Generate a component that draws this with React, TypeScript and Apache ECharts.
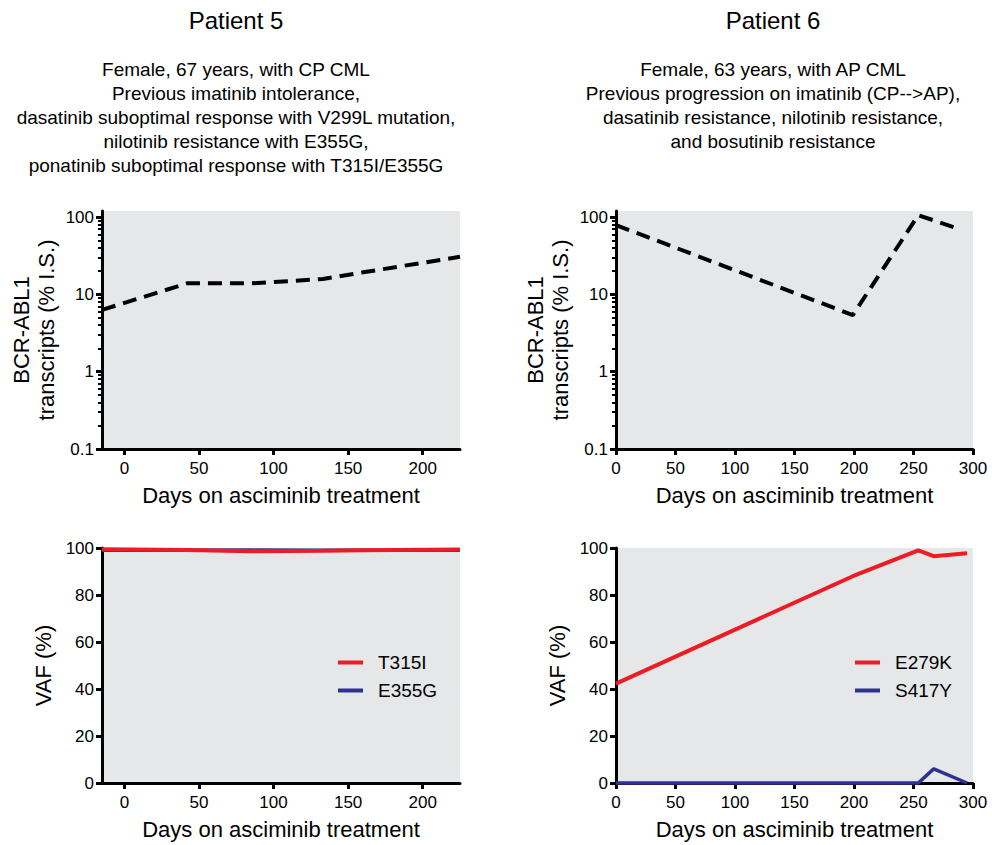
import React, { useEffect, useRef } from 'react';
import * as echarts from 'echarts';

const FONT = '"Liberation Sans", Arial, Helvetica, sans-serif';
const RED = '#ed1c24';
const BLUE = '#2e3192';
const GRAY = '#e6e7e8';

// Patient 5
const p5Days = [-15, 42, 85, 133, 160, 225];
const p5BcrAbl = [6.3, 13.9, 13.9, 15.8, 19.3, 30.7];
const p5T315I = [99.5, 99.2, 98.6, 98.8, 99.0, 99.4];
const p5E355G = [99.0, 99.0, 99.1, 99.0, 99.0, 99.0];

// Patient 6
const p6BcrDays = [0, 199, 254, 287];
const p6BcrAbl = [79, 5.4, 106, 71.5];
const p6VafDays = [0, 199, 254, 267, 295];
const p6E279K = [42.3, 88, 99, 96.5, 97.8];
const p6S417Y = [0, 0, 0, 6, 0];

// Tick values
const logMajorTicks = [0.1, 1, 10, 100];
const logMinorTicks = [0.2, 0.3, 0.4, 0.5, 0.6, 0.7, 0.8, 0.9, 2, 3, 4, 5, 6, 7, 8, 9, 20, 30, 40, 50, 60, 70, 80, 90];
const p5DayTicks = [0, 50, 100, 150, 200];
const p6DayTicks = [0, 50, 100, 150, 200, 250, 300];

const titles = ['Patient 5', 'Patient 6'];
const subtitles = [
  'Female, 67 years, with CP CML\nPrevious imatinib intolerance,\ndasatinib suboptimal response with V299L mutation,\nnilotinib resistance with E355G,\nponatinib suboptimal response with T315I/E355G',
  'Female, 63 years, with AP CML\nPrevious progression on imatinib (CP-->AP),\ndasatinib resistance, nilotinib resistance,\nand bosutinib resistance',
];
const xName = 'Days on asciminib treatment';
const bcrName = 'BCR-ABL1\ntranscripts (% I.S.)';
const vafName = 'VAF (%)';

const zip = (xs: number[], ys: number[]) => xs.map((x, i) => [x, ys[i]]);

export default function App() {
  const ref = useRef<HTMLDivElement>(null);
  useEffect(() => {
    document.body.style.margin = '0';
    if (!ref.current) return;
    const chart = echarts.init(ref.current, null, { renderer: 'svg' });

    const grids = [
      { left: 102, top: 211, width: 358, height: 238 },
      { left: 616, top: 211, width: 357, height: 238 },
      { left: 102, top: 548, width: 358, height: 235 },
      { left: 616, top: 548, width: 357, height: 235 },
    ];

    const axisLine = { show: true, onZero: false, lineStyle: { color: '#000', width: 3 } };
    const majorTick = { show: true, length: 6, lineStyle: { color: '#000', width: 3 } };
    const labelStyle = { color: '#000', fontSize: 17, fontFamily: FONT };

    const makeX = (gridIndex: number, min: number, max: number, ticks: number[]) => ({
      type: 'value',
      gridIndex,
      min,
      max,
      axisLine,
      axisTick: { ...majorTick, customValues: ticks },
      axisLabel: { ...labelStyle, margin: 11, customValues: ticks },
      splitLine: { show: false },
      name: xName,
      nameLocation: 'middle',
      nameGap: 35,
      nameTextStyle: { color: '#000', fontSize: 22, fontFamily: FONT },
    });

    const makeLogMajor = (gridIndex: number) => ({
      type: 'log',
      logBase: 10,
      gridIndex,
      position: 'left',
      min: 0.1,
      max: 120,
      axisLine,
      axisTick: { ...majorTick, customValues: logMajorTicks },
      axisLabel: { ...labelStyle, margin: 8, customValues: logMajorTicks, formatter: (v: number) => String(v) },
      splitLine: { show: false },
    });
    const makeLogMinor = (gridIndex: number) => ({
      type: 'log',
      logBase: 10,
      gridIndex,
      position: 'left',
      min: 0.1,
      max: 120,
      axisLine: { show: false, onZero: false },
      axisTick: { show: true, length: 4, lineStyle: { color: '#000', width: 2 }, customValues: logMinorTicks },
      axisLabel: { show: false },
      splitLine: { show: false },
    });
    const makeVaf = (gridIndex: number) => ({
      type: 'value',
      gridIndex,
      position: 'left',
      min: 0,
      max: 100,
      interval: 20,
      axisLine,
      axisTick: majorTick,
      axisLabel: { ...labelStyle, margin: 8 },
      splitLine: { show: false },
    });

    const line = (name: string, xi: number, yi: number, data: number[][], color: string, width: number, dashed = false) => ({
      type: 'line',
      name,
      xAxisIndex: xi,
      yAxisIndex: yi,
      data,
      symbol: 'none',
      clip: false,
      color,
      itemStyle: { color },
      lineStyle: { color, width, type: dashed ? [14, 8] : 'solid' },
      emphasis: { disabled: true },
    });

    const legendCommon = {
      orient: 'vertical',
      top: 653,
      padding: 0,
      itemWidth: 25,
      itemHeight: 4,
      itemGap: 9,
      icon: 'rect',
      selectedMode: false,
      textStyle: { color: '#000', fontSize: 19, fontFamily: FONT, padding: [0, 0, 0, 10] },
    };

    const graphic: any[] = [];
    const centers = [236, 773];
    centers.forEach((cx, i) => {
      graphic.push({
        type: 'text', x: cx, y: 20,
        style: { text: titles[i], fontSize: 24, fontFamily: FONT, fill: '#000', align: 'center', verticalAlign: 'middle' },
      });
      graphic.push({
        type: 'text', x: cx, y: 58,
        style: { text: subtitles[i], fontSize: 19, lineHeight: 23.8, fontFamily: FONT, fill: '#000', align: 'center', verticalAlign: 'top' },
      });
    });
    [0, 1].forEach((i) => {
      const g = grids[i];
      graphic.push({
        type: 'text', x: g.left - 68, y: g.top + g.height / 2, rotation: Math.PI / 2,
        style: { text: bcrName, fontSize: 22, lineHeight: 25, fontFamily: FONT, fill: '#000', align: 'center', verticalAlign: 'middle' },
      });
    });
    [2, 3].forEach((i) => {
      const g = grids[i];
      graphic.push({
        type: 'text', x: g.left - 59, y: g.top + g.height / 2, rotation: Math.PI / 2,
        style: { text: vafName, fontSize: 22, fontFamily: FONT, fill: '#000', align: 'center', verticalAlign: 'middle' },
      });
    });

    chart.setOption({
      animation: false,
      grid: grids.map((g) => ({ ...g, show: true, backgroundColor: GRAY, borderWidth: 0, containLabel: false })),
      xAxis: [
        makeX(0, -15, 225, p5DayTicks),
        makeX(1, 0, 300, p6DayTicks),
        makeX(2, -15, 225, p5DayTicks),
        makeX(3, 0, 300, p6DayTicks),
      ],
      yAxis: [
        makeLogMajor(0),
        makeLogMinor(0),
        makeLogMajor(1),
        makeLogMinor(1),
        makeVaf(2),
        makeVaf(3),
      ],
      legend: [
        { ...legendCommon, left: 338, data: ['T315I', 'E355G'] },
        { ...legendCommon, left: 855, data: ['E279K', 'S417Y'] },
      ],
      graphic,
      series: [
        line('Patient 5 BCR-ABL1', 0, 0, zip(p5Days, p5BcrAbl), '#000', 4, true),
        line('Patient 6 BCR-ABL1', 1, 2, zip(p6BcrDays, p6BcrAbl), '#000', 4, true),
        line('E355G', 2, 4, zip(p5Days, p5E355G), BLUE, 3.5),
        line('T315I', 2, 4, zip(p5Days, p5T315I), RED, 4),
        line('S417Y', 3, 5, zip(p6VafDays, p6S417Y), BLUE, 3.5),
        line('E279K', 3, 5, zip(p6VafDays, p6E279K), RED, 4),
      ],
    });
    return () => chart.dispose();
  }, []);
  return <div ref={ref} style={{ width: 992, height: 845 }} />;
}
